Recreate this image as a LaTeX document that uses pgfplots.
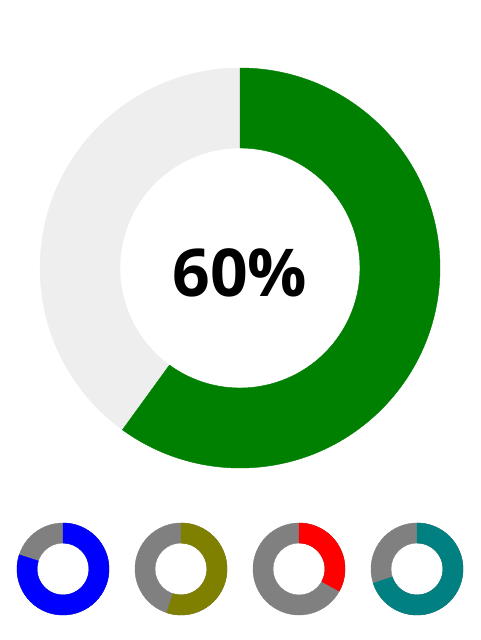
\documentclass[border=0pt]{standalone}
\usepackage{fontspec}
\setmainfont{Open Sans}
\usepackage{pgfplots}
\pgfplotsset{compat=1.18}
\usepackage{pgfplotstable}

\definecolor{ringgreen}{RGB}{0,128,0}
\definecolor{ringlight}{RGB}{238,238,238}
\definecolor{ringgray}{RGB}{128,128,128}
\definecolor{ringblue}{RGB}{0,0,255}
\definecolor{ringolive}{RGB}{128,128,0}
\definecolor{ringred}{RGB}{255,0,0}
\definecolor{ringteal}{RGB}{0,128,128}

% x y = centre (canvas px, y up), v = percent, ro/ri = outer/inner radius
\pgfplotstableread{
x   y   v  ro  ri
240 372 60 200 120
}\maindonut
\pgfplotstableread{
x   y  v  ro ri
63  71 80 46 26
}\donutA
\pgfplotstableread{
x   y  v  ro ri
181 71 55 46 26
}\donutB
\pgfplotstableread{
x   y  v  ro ri
299 71 33 46 26
}\donutC
\pgfplotstableread{
x   y  v  ro ri
417 71 70 46 26
}\donutD

\pgfplotsset{
  donut/.style 2 args={
    scatter, only marks, mark=*, mark size=0pt,
    point meta=explicit,
    visualization depends on={\thisrow{v}\as\val},
    visualization depends on={\thisrow{ro}\as\ro},
    visualization depends on={\thisrow{ri}\as\ri},
    scatter/@pre marker code/.code={
      \fill[#2, even odd rule] (0,0) circle[radius=\ro pt] circle[radius=\ri pt];
      \pgfmathsetmacro\endang{90-3.6*\val}
      \fill[#1] (90:\ro pt) arc[start angle=90, end angle=\endang, radius=\ro pt]
        -- (\endang:\ri pt) arc[start angle=\endang, end angle=90, radius=\ri pt] -- cycle;
      \begin{scope}[draw=none, fill=none]
    },
    scatter/@post marker code/.code={\end{scope}},
  },
}

\begin{document}
\begin{tikzpicture}
\begin{axis}[
  scale only axis, width=480pt, height=640pt,
  xmin=0, xmax=480, ymin=0, ymax=640,
  hide axis, clip=false,
]
\path (rel axis cs:0,0) rectangle (rel axis cs:1,1);
\addplot[donut={ringgreen}{ringlight}] table[x=x, y=y, meta=v] {\maindonut};
\addplot[donut={ringblue}{ringgray}]  table[x=x, y=y, meta=v] {\donutA};
\addplot[donut={ringolive}{ringgray}] table[x=x, y=y, meta=v] {\donutB};
\addplot[donut={ringred}{ringgray}]   table[x=x, y=y, meta=v] {\donutC};
\addplot[donut={ringteal}{ringgray}]  table[x=x, y=y, meta=v] {\donutD};
% centre label of the main ring
\addplot[only marks, mark=none, point meta=explicit,
  nodes near coords={\pgfmathprintnumber[assume math mode=true]{\pgfplotspointmeta}\%},
  every node near coord/.append style={anchor=base, yshift=-29pt,
    font=\fontsize{66}{66}\selectfont\bfseries, text=black}]
  table[x=x, y=y, meta=v] {\maindonut};
\end{axis}
\end{tikzpicture}
\end{document}
